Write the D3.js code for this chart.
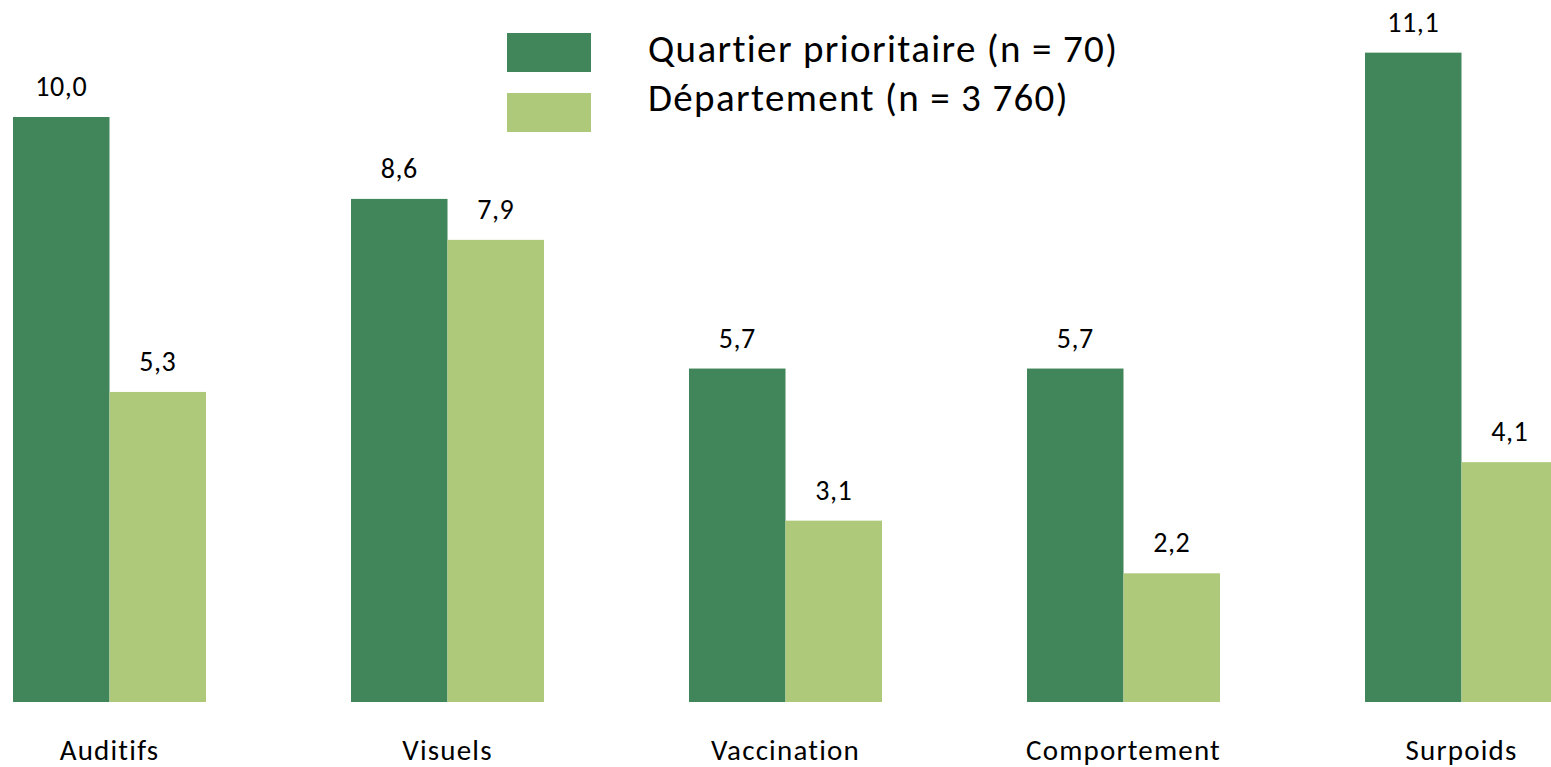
<!DOCTYPE html>
<html>
<head>
<meta charset="utf-8">
<script src="https://cdn.jsdelivr.net/npm/d3@7"></script>
<style>
html,body{margin:0;padding:0;background:#fff;}
svg{display:block;}
text{font-family:Carlito, Calibri, Lato, "Open Sans", sans-serif;fill:#000;}
</style>
</head>
<body>
<svg id="chart" width="1551" height="767"></svg>
<script>
const categories = ["Auditifs", "Visuels", "Vaccination", "Comportement", "Surpoids"];
const seriesNames = ["Quartier prioritaire (n = 70)", "Département (n = 3 760)"];
const quartierValues = [10.0, 8.6, 5.7, 5.7, 11.1];
const departementValues = [5.3, 7.9, 3.1, 2.2, 4.1];
const seriesColors = ["#41855a", "#afc97a"];

const svg = d3.select("#chart");

const x0 = d3.scaleBand().domain(categories).range([13, 1558]).paddingInner(0.429).paddingOuter(0);
const x1 = d3.scaleBand().domain([0, 1]).range([0, x0.bandwidth()]).padding(0);
const y = d3.scaleLinear().domain([0, 10]).range([702, 117]);

const fmt = v => d3.format(".1f")(v).replace(".", ",");

const data = categories.map((c, i) => ({cat: c, vals: [quartierValues[i], departementValues[i]]}));

const g = svg.append("g");
const groups = g.selectAll("g.grp").data(data).join("g")
  .attr("class", "grp")
  .attr("transform", d => `translate(${x0(d.cat)},0)`);

groups.selectAll("rect").data(d => d.vals.map((v, k) => ({v, k}))).join("rect")
  .attr("x", d => x1(d.k))
  .attr("width", x1.bandwidth())
  .attr("y", d => y(d.v))
  .attr("height", d => y(0) - y(d.v))
  .attr("fill", d => seriesColors[d.k]);

groups.selectAll("text.val").data(d => d.vals.map((v, k) => ({v, k}))).join("text")
  .attr("class", "val")
  .attr("x", d => x1(d.k) + x1.bandwidth() / 2)
  .attr("y", d => y(d.v) - 21)
  .attr("text-anchor", "middle")
  .style("font-size", "28px")
  .style("letter-spacing", "0.6px")
  .text(d => fmt(d.v));

// category axis labels
const xAxis = d3.axisBottom(x0).tickSize(0).tickPadding(0);
const ax = svg.append("g").attr("transform", "translate(0,702)").call(xAxis);
ax.select(".domain").remove();
ax.selectAll("text")
  .attr("y", 58).attr("dy", null)
  .style("font-size", "29px")
  .style("letter-spacing", "1.2px")
  .style("font-family", "Carlito, Calibri, Lato, 'Open Sans', sans-serif")
  .attr("fill", "#000");

// legend
const leg = svg.append("g");
const legY = [33, 93];
const legTextY = [62, 111];
seriesNames.forEach((name, i) => {
  leg.append("rect").attr("x", 507).attr("y", legY[i]).attr("width", 84).attr("height", 39).attr("fill", seriesColors[i]);
  leg.append("text").attr("x", 648).attr("y", legTextY[i])
    .style("font-size", "39px").style("letter-spacing", "1.35px").text(name);
});
</script>
</body>
</html>
